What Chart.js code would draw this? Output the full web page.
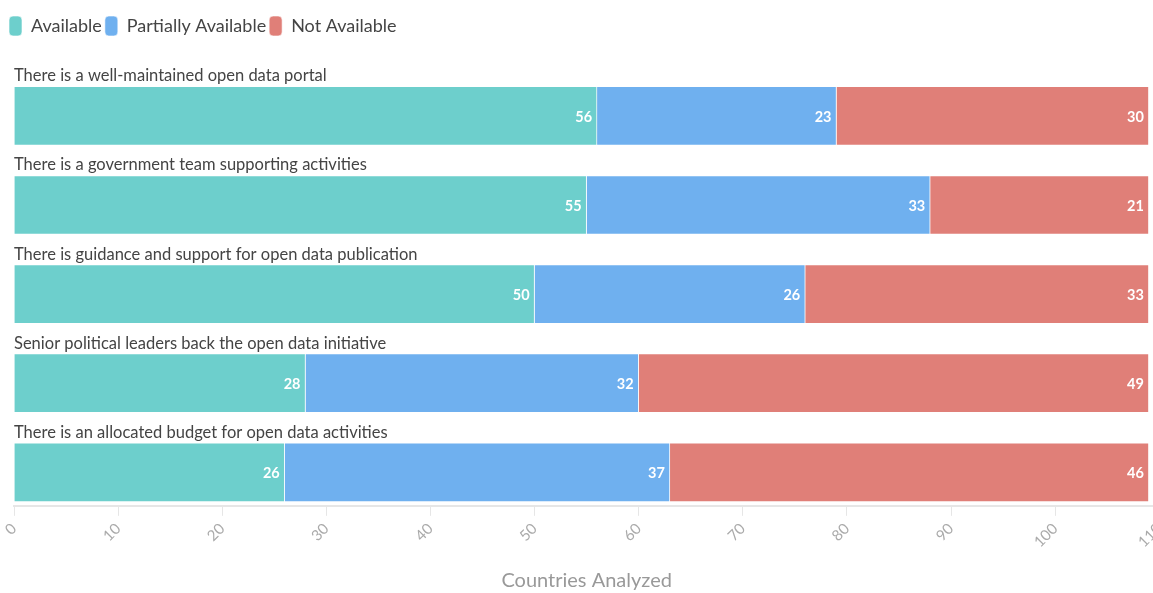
<!DOCTYPE html>
<html>
<head>
<meta charset="utf-8">
<title>Open data readiness</title>
<script src="https://cdn.jsdelivr.net/npm/chart.js"></script>
<style>
  html, body { margin: 0; padding: 0; background: #fff; overflow: hidden; }
  .chart-box { width: 1176px; height: 593px; position: relative; }
</style>
</head>
<body>
<div class="chart-box"><canvas id="myChart"></canvas></div>
<script>
const categories = [
  "There is a well-maintained open data portal",
  "There is a government team supporting activities",
  "There is guidance and support for open data publication",
  "Senior political leaders back the open data initiative",
  "There is an allocated budget for open data activities",
];
const available = [56, 55, 50, 28, 26];
const partiallyAvailable = [23, 33, 26, 32, 37];
const notAvailable = [30, 21, 33, 49, 46];

const seriesNames = ["Available", "Partially Available", "Not Available"];
const seriesColors = ["#6dcfcc", "#6fb0ef", "#e07f78"];
const axisMax = 110;
const axisStep = 10;
const axisTitle = "Countries Analyzed";

// y is numeric so the bars can sit low in their rows, with room above for the text
const toPoints = (values) => values.map((v, i) => ({ x: v, y: i }));

// category captions above each bar and white counts at the end of each segment
const barLabels = {
  id: "barLabels",
  afterDatasetsDraw(chart) {
    const ctx = chart.ctx;
    ctx.save();
    ctx.font = "16.5px Lato";
    ctx.fillStyle = "#444";
    ctx.textAlign = "left";
    ctx.textBaseline = "alphabetic";
    const first = chart.getDatasetMeta(0).data;
    categories.forEach((c, i) => {
      const bar = first[i];
      ctx.fillText(c, chart.chartArea.left, bar.y - bar.height / 2 - 5);
    });

    ctx.font = "bold 14.5px Lato";
    ctx.fillStyle = "#fff";
    ctx.textAlign = "right";
    ctx.textBaseline = "middle";
    chart.data.datasets.forEach((ds, di) => {
      chart.getDatasetMeta(di).data.forEach((bar, i) => {
        ctx.fillText(ds.data[i].x, bar.x - 5, bar.y + 1);
      });
    });
    ctx.restore();
  },
};

const ctx = document.getElementById("myChart").getContext("2d");
new Chart(ctx, {
  type: "bar",
  data: {
    datasets: [available, partiallyAvailable, notAvailable].map((values, i) => ({
      label: seriesNames[i],
      data: toPoints(values),
      backgroundColor: seriesColors[i],
      borderColor: "rgba(255,255,255,0.6)",
      borderWidth: 1,
      barThickness: 59,
    })),
  },
  options: {
    indexAxis: "y",
    responsive: true,
    maintainAspectRatio: false,
    animation: false,
    layout: { padding: { left: 6, right: 12, top: 13, bottom: 0 } },
    scales: {
      x: {
        type: "linear",
        stacked: true,
        min: 0,
        max: axisMax,
        ticks: {
          stepSize: axisStep,
          minRotation: 45,
          maxRotation: 45,
          color: "#aaa",
          font: { family: "Lato", size: 15 },
          padding: 4,
        },
        grid: {
          drawOnChartArea: false,
          drawTicks: true,
          tickLength: 10,
          color: "#e6e6e6",
        },
        border: { color: "#e6e6e6", width: 2 },
        title: {
          display: true,
          text: axisTitle,
          color: "#999",
          font: { family: "Lato", size: 20 },
          padding: { top: 14, bottom: 0 },
        },
      },
      y: {
        type: "linear",
        stacked: true,
        reverse: true,
        offset: false,
        bounds: "data",
        min: -0.784,
        max: 4.376,
        ticks: { display: false },
        grid: { display: false },
        border: { display: false },
        // thin empty strip that keeps the bars clear of the legend's left edge
        afterFit(scale) {
          scale.width = 8;
        },
      },
    },
    plugins: {
      legend: {
        position: "top",
        align: "start",
        labels: {
          boxWidth: 13,
          boxHeight: 20,
          useBorderRadius: true,
          borderRadius: 4,
          padding: 3,
          color: "#444",
          font: { family: "Lato", size: 18 },
        },
      },
      tooltip: { enabled: false },
    },
  },
  plugins: [barLabels],
});
</script>
</body>
</html>
